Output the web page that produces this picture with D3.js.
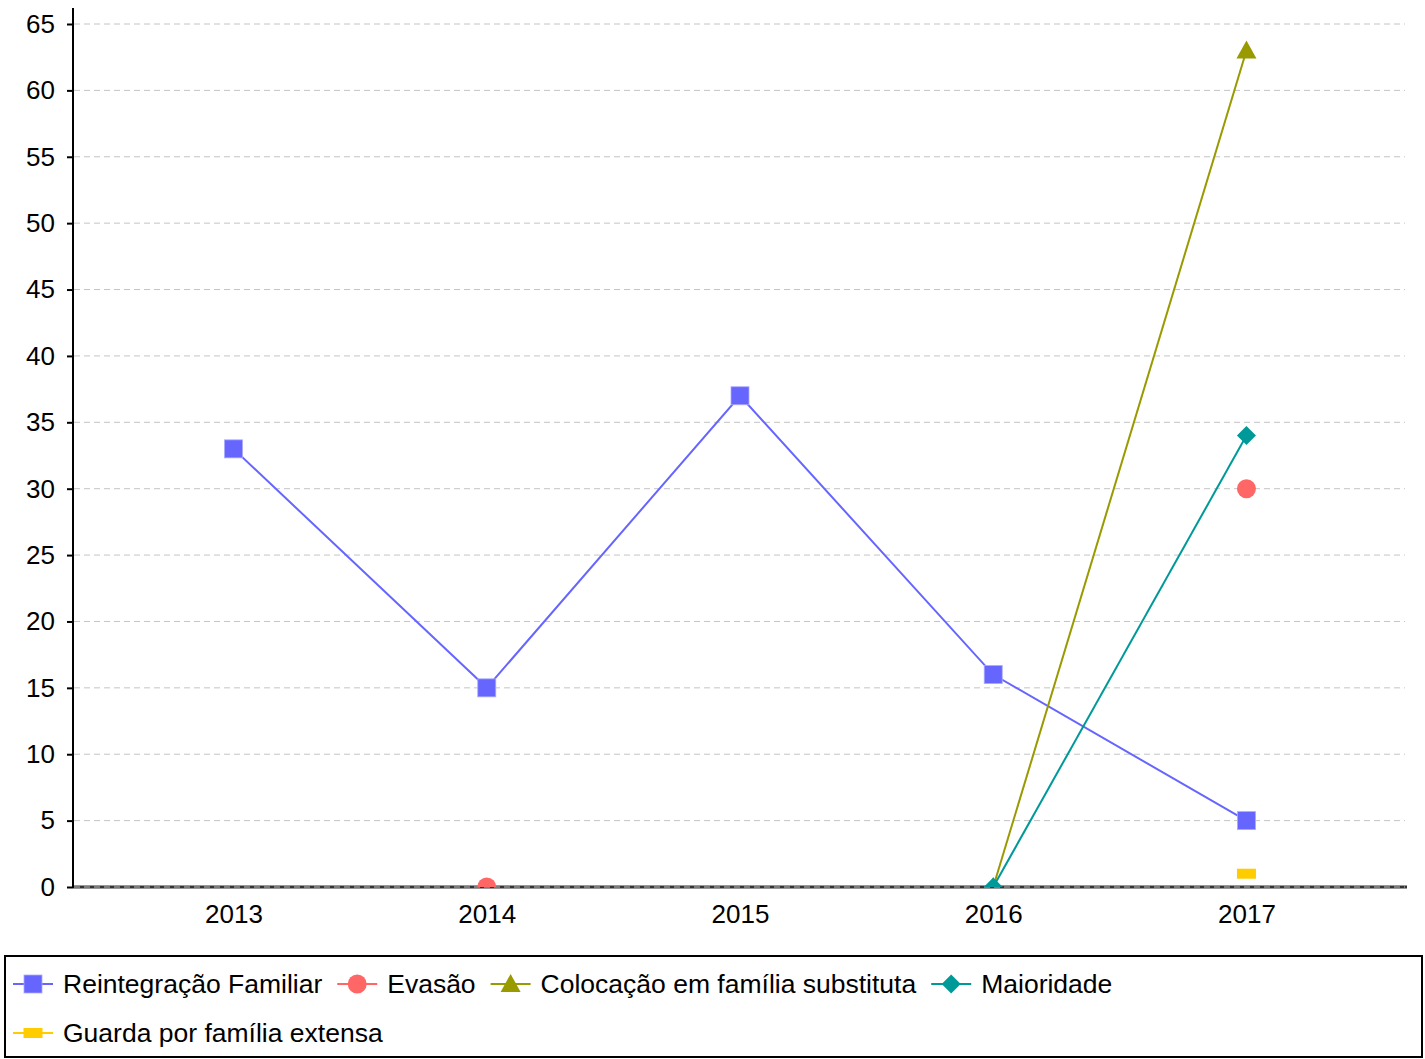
<!DOCTYPE html>
<html>
<head>
<meta charset="utf-8">
<script src="https://cdn.jsdelivr.net/npm/d3@7"></script>
<style>
  html, body { margin: 0; padding: 0; background: #fff; }
  svg { display: block; font-family: "Liberation Sans", Arial, sans-serif; }
</style>
</head>
<body>
<svg id="chart" width="1425" height="1059"></svg>
<script>
const categories = ["2013", "2014", "2015", "2016", "2017"];
const reintegracao = [33, 15, 37, 16, 5];
const evasao = [null, 0, null, null, 30];
const colocacao = [null, null, null, 0, 63];
const maioridade = [null, null, null, 0, 34];
const guarda = [null, null, null, null, 1];
const yTicks = [0, 5, 10, 15, 20, 25, 30, 35, 40, 45, 50, 55, 60, 65];

const seriesNames = ["Reintegração Familiar", "Evasão", "Colocação em família substituta", "Maioridade", "Guarda por família extensa"];
const seriesColors = ["#6666ff", "#ff6666", "#999900", "#009999", "#ffcc00"];
const seriesShapes = ["square", "circle", "triangle", "diamond", "rect"];
const seriesValues = [reintegracao, evasao, colocacao, maioridade, guarda];

(function () {
const svg = d3.select("#chart");
const pLeft = 73, pRight = 1407, pTop = 8, pBottom = 887;
const tickFont = 26, legendFont = 26.5;

const x = d3.scalePoint().domain(categories).range([pLeft, pRight]).padding(0.634);
const y = d3.scaleLinear().domain([0, 65]).range([pBottom, 24]);

svg.append("defs").append("clipPath").attr("id", "plotclip")
  .append("rect").attr("x", pLeft).attr("y", 0).attr("width", pRight - pLeft + 5).attr("height", pBottom);

svg.append("line").attr("x1", pLeft).attr("x2", pRight).attr("y1", pBottom).attr("y2", pBottom)
  .attr("stroke", "#333").attr("stroke-width", 3);

svg.append("g").selectAll("line").data(yTicks).join("line")
  .attr("x1", pLeft + 1).attr("x2", pRight - 2)
  .attr("y1", d => y(d)).attr("y2", d => y(d))
  .attr("stroke", "#c4c4c4").attr("stroke-width", 1).attr("stroke-dasharray", "6,4");

const yAxis = d3.axisLeft(y).tickValues(yTicks).tickSize(6).tickPadding(12);
const gy = svg.append("g").attr("transform", `translate(${pLeft},0)`).call(yAxis);
gy.select(".domain").remove();
gy.selectAll(".tick line").attr("stroke", "#000").attr("stroke-width", 2);
gy.selectAll(".tick text").attr("font-size", tickFont).attr("fill", "#000")
  .attr("font-family", "Liberation Sans, Arial, sans-serif");
svg.append("line").attr("x1", pLeft).attr("x2", pLeft).attr("y1", pTop).attr("y2", pBottom + 1)
  .attr("stroke", "#000").attr("stroke-width", 2);

const xAxis = d3.axisBottom(x).tickSize(0).tickPadding(18);
const gx = svg.append("g").attr("transform", `translate(0,${pBottom})`).call(xAxis);
gx.select(".domain").remove();
gx.selectAll(".tick text").attr("font-size", tickFont).attr("fill", "#000")
  .attr("font-family", "Liberation Sans, Arial, sans-serif");

function drawMarker(g, shape, color, cx, cy) {
  if (shape === "square") {
    g.append("rect").attr("x", cx - 9).attr("y", cy - 9).attr("width", 18).attr("height", 18)
      .attr("fill", color).attr("stroke", "#aaaaff").attr("stroke-width", 0.8);
  } else if (shape === "circle") {
    g.append("circle").attr("cx", cx).attr("cy", cy).attr("r", 9.5).attr("fill", color);
  } else if (shape === "triangle") {
    g.append("path").attr("d", `M${cx},${cy - 10}L${cx + 10},${cy + 8}L${cx - 10},${cy + 8}Z`).attr("fill", color);
  } else if (shape === "diamond") {
    g.append("path").attr("d", `M${cx},${cy - 9.5}L${cx + 9.5},${cy}L${cx},${cy + 9.5}L${cx - 9.5},${cy}Z`).attr("fill", color);
  } else if (shape === "rect") {
    g.append("rect").attr("x", cx - 9.5).attr("y", cy - 5).attr("width", 19).attr("height", 10).attr("fill", color);
  }
}

const plot = svg.append("g").attr("clip-path", "url(#plotclip)");
seriesValues.forEach((vals, i) => {
  const pts = categories.map((c, j) => ({ c, v: vals[j] }));
  const line = d3.line().defined(d => d.v !== null).x(d => x(d.c)).y(d => y(d.v));
  plot.append("path").datum(pts).attr("d", line).attr("fill", "none")
    .attr("stroke", seriesColors[i]).attr("stroke-width", 2);
});
seriesValues.forEach((vals, i) => {
  const g = plot.append("g");
  categories.forEach((c, j) => {
    if (vals[j] !== null) drawMarker(g, seriesShapes[i], seriesColors[i], x(c), y(vals[j]));
  });
});

const lg = svg.append("g");
lg.append("rect").attr("x", 5).attr("y", 956).attr("width", 1417).attr("height", 101)
  .attr("fill", "#fff").attr("stroke", "#000").attr("stroke-width", 2);
let lx = 13, ly = 984;
const maxX = 1410;
seriesNames.forEach((name, i) => {
  const tmp = lg.append("text").attr("font-size", legendFont).text(name);
  const w = tmp.node().getComputedTextLength();
  tmp.remove();
  if (lx + 50 + w > maxX) { lx = 13; ly += 49; }
  const item = lg.append("g");
  item.append("line").attr("x1", lx).attr("x2", lx + 40).attr("y1", ly).attr("y2", ly)
    .attr("stroke", seriesColors[i]).attr("stroke-width", 2);
  drawMarker(item, seriesShapes[i], seriesColors[i], lx + 20, ly);
  item.append("text").attr("x", lx + 50).attr("y", ly).attr("dy", "0.35em")
    .attr("font-size", legendFont).attr("fill", "#000").text(name);
  lx += 50 + w + 15;
});
})();
</script>
</body>
</html>
